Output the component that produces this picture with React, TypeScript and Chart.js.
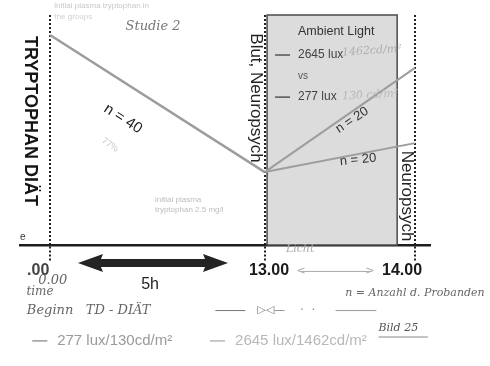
import React, { useEffect, useRef } from "react";
import { Chart, registerables } from "chart.js";

Chart.register(...registerables);

// x axis: axis position of each time mark and its label
const timePositions = [0, 1, 1.7];
const timeLabels = [".00", "13.00", "14.00"];

// plasma tryptophan (relative units)
const dietValues = [91.3, 31.7]; // 0.00 -> 13.00
const brightValues = [31.7, 77.0]; // 13.00 -> 14.00
const dimValues = [31.7, 44.3]; // 13.00 -> 14.00

const seriesNames = ["277 lux/130cd/m²", "2645 lux/1462cd/m²"];
const groupSizes = ["n = 40", "n = 20", "n = 20"];
const boxLines = ["Ambient Light", "2645 lux", "vs", "277 lux"];

const LINE = "#9d9d9d";
const SANS = "'Liberation Sans', Arial, sans-serif";
const HAND = "'DejaVu Serif', serif";

function txt(
  ctx: CanvasRenderingContext2D,
  s: string,
  px: number,
  py: number,
  font: string,
  color: string,
  align: CanvasTextAlign = "center",
  rot = 0
) {
  ctx.save();
  ctx.translate(px, py);
  ctx.rotate((rot * Math.PI) / 180);
  ctx.font = font;
  ctx.fillStyle = color;
  ctx.textAlign = align;
  ctx.textBaseline = "middle";
  ctx.fillText(s, 0, 0);
  ctx.restore();
}

function seg(ctx: CanvasRenderingContext2D, x1: number, y1: number, x2: number, y2: number, color: string, w: number) {
  ctx.save();
  ctx.strokeStyle = color;
  ctx.lineWidth = w;
  ctx.beginPath();
  ctx.moveTo(x1, y1);
  ctx.lineTo(x2, y2);
  ctx.stroke();
  ctx.restore();
}

const sketchPlugin = {
  id: "sketch",
  beforeDatasetsDraw(chart: any) {
    const { ctx } = chart;
    const xs = chart.scales.x;
    const ys = chart.scales.y;
    const l = xs.getPixelForValue(1.011);
    const r = xs.getPixelForValue(1.617);
    const t = ys.getPixelForValue(100);
    const b = ys.getPixelForValue(0);
    ctx.save();
    ctx.fillStyle = "#dcdcdc";
    ctx.fillRect(l, t, r - l, b - t);
    ctx.strokeStyle = "#4a4a4a";
    ctx.lineWidth = 1.5;
    ctx.strokeRect(l, t, r - l, b - t);
    ctx.restore();
  },
  afterDatasetsDraw(chart: any) {
    const { ctx } = chart;
    const xs = chart.scales.x;
    const ys = chart.scales.y;
    const X = (v: number) => xs.getPixelForValue(v);
    const Y = (v: number) => ys.getPixelForValue(v);

    // vertical titles
    txt(ctx, "TRYPTOPHAN DIÄT", X(-0.093), Y(53.9), `bold 18px ${SANS}`, "#151515", "center", 90);
    txt(ctx, "Blut, Neuropsych", X(0.957), Y(63.9), `17px ${SANS}`, "#222", "center", 90);
    txt(ctx, "Neuropsych", X(1.663), Y(21.3), `17px ${SANS}`, "#222", "center", 90);

    // box legend
    txt(ctx, boxLines[0], X(1.155), Y(92.6), `12.5px ${SANS}`, "#333", "left");
    seg(ctx, X(1.048), Y(82.6), X(1.118), Y(82.6), "#555", 1.5);
    txt(ctx, boxLines[1], X(1.155), Y(82.6), `12px ${SANS}`, "#444", "left");
    txt(ctx, boxLines[2], X(1.155), Y(73.5), `10px ${SANS}`, "#555", "left");
    seg(ctx, X(1.048), Y(64.3), X(1.118), Y(64.3), "#555", 1.5);
    txt(ctx, boxLines[3], X(1.155), Y(64.3), `12px ${SANS}`, "#444", "left");
    txt(ctx, "1462cd/m²", X(1.36), Y(83.5), `italic 11px ${HAND}`, "#b0b0b0", "left", -4);
    txt(ctx, "130 cd/m²", X(1.36), Y(64.5), `italic 11px ${HAND}`, "#b8b8b8", "left", -3);

    // group sizes
    txt(ctx, groupSizes[0], X(0.34), Y(54.8), `15px ${SANS}`, "#222", "center", 32.7);
    txt(ctx, groupSizes[1], X(1.407), Y(54.3), `13px ${SANS}`, "#333", "center", -34);
    txt(ctx, groupSizes[2], X(1.435), Y(37), `13px ${SANS}`, "#333", "center", -6);

    // faint printed remnants
    txt(ctx, "77%", X(0.28), Y(43.5), `9px ${SANS}`, "#c4c4c4", "center", 35);
    txt(ctx, "initial plasma", X(0.489), Y(19.6), `8px ${SANS}`, "#bdbdbd", "left");
    txt(ctx, "tryptophan 2.5 mg/l", X(0.489), Y(15.2), `8px ${SANS}`, "#bdbdbd", "left");
    txt(ctx, "initial plasma tryptophan in", X(0.02), Y(103.8), `8px ${SANS}`, "#c8c8c8", "left");
    txt(ctx, "the groups", X(0.02), Y(99.2), `8px ${SANS}`, "#d0d0d0", "left");
    txt(ctx, "e", X(-0.14), Y(3.5), `10px ${SANS}`, "#333", "left");

    // handwriting
    txt(ctx, "Studie 2", X(0.48), Y(94.8), `italic 13px ${HAND}`, "#777", "center");
    txt(ctx, "Licht", X(1.165), Y(-1.8), `italic 11px ${HAND}`, "#aaa", "center");
    seg(ctx, X(1.17), Y(-11.5), X(1.49), Y(-11.5), "#aaa", 1);
    txt(ctx, "<", X(1.17), Y(-11.5), `11px ${HAND}`, "#aaa", "center");
    txt(ctx, ">", X(1.49), Y(-11.5), `11px ${HAND}`, "#aaa", "center");
    txt(ctx, "0.00", X(-0.055), Y(-15.5), `italic 13px ${HAND}`, "#666", "left");
    txt(ctx, "time", X(-0.11), Y(-20.5), `italic 12px ${HAND}`, "#666", "left");
    txt(ctx, "Beginn   TD - DIÄT", X(-0.108), Y(-28.5), `italic 13px ${HAND}`, "#666", "left");
    seg(ctx, X(0.77), Y(-28.5), X(0.91), Y(-28.5), "#777", 1);
    txt(ctx, "▷◁—", X(1.03), Y(-28.5), `11px ${HAND}`, "#777", "center");
    txt(ctx, "·  ·", X(1.2), Y(-28.5), `12px ${HAND}`, "#999", "center");
    seg(ctx, X(1.33), Y(-28.5), X(1.52), Y(-28.5), "#999", 1);
    txt(ctx, "n = Anzahl d. Probanden", X(1.375), Y(-21), `italic 11px ${HAND}`, "#666", "left");
    txt(ctx, "Bild 25", X(1.53), Y(-36.3), `italic 11px ${HAND}`, "#555", "left");
    seg(ctx, X(1.53), Y(-40), X(1.76), Y(-40), "#888", 1);

    // time labels
    const labelAt = [-0.055, 1.02, 1.64];
    timeLabels.forEach((s, i) => {
      txt(ctx, s, X(labelAt[i]), Y(-11.3), `bold 16px ${SANS}`, i === 0 ? "#444" : "#1a1a1a", "center");
    });

    // 5h double arrow
    const x1 = X(0.13);
    const x2 = X(0.829);
    const yy = Y(-7.8);
    ctx.save();
    ctx.fillStyle = "#242424";
    ctx.beginPath();
    ctx.moveTo(x1, yy);
    ctx.lineTo(x1 + 25, yy - 9);
    ctx.lineTo(x1 + 23, yy - 4);
    ctx.lineTo(x2 - 23, yy - 4);
    ctx.lineTo(x2 - 25, yy - 9);
    ctx.lineTo(x2, yy);
    ctx.lineTo(x2 - 25, yy + 9);
    ctx.lineTo(x2 - 23, yy + 4);
    ctx.lineTo(x1 + 23, yy + 4);
    ctx.lineTo(x1 + 25, yy + 9);
    ctx.closePath();
    ctx.fill();
    ctx.restore();
    txt(ctx, "5h", X(0.466), Y(-17), `16px ${SANS}`, "#222", "center");

    // bottom legend
    const ly = Y(-41.7);
    seg(ctx, X(-0.083), ly, X(-0.013), ly, "#9a9a9a", 1.5);
    txt(ctx, seriesNames[0], X(0.033), ly, `15px ${SANS}`, "#9a9a9a", "left");
    seg(ctx, X(0.745), ly, X(0.815), ly, "#b8b8b8", 1.5);
    txt(ctx, seriesNames[1], X(0.862), ly, `15px ${SANS}`, "#b8b8b8", "left");
  },
};

export default function App() {
  const ref = useRef<HTMLCanvasElement | null>(null);
  useEffect(() => {
    if (!ref.current) return;
    const chart = new Chart(ref.current, {
      type: "line",
      data: {
        datasets: [
          {
            label: "TD",
            data: [
              { x: timePositions[0], y: dietValues[0] },
              { x: timePositions[1], y: dietValues[1] },
            ],
            borderColor: LINE,
            borderWidth: 2.5,
            pointRadius: 0,
          },
          {
            label: seriesNames[1],
            data: [
              { x: timePositions[1], y: brightValues[0] },
              { x: timePositions[2], y: brightValues[1] },
            ],
            borderColor: LINE,
            borderWidth: 2,
            pointRadius: 0,
          },
          {
            label: seriesNames[0],
            data: [
              { x: timePositions[1], y: dimValues[0] },
              { x: timePositions[2], y: dimValues[1] },
            ],
            borderColor: LINE,
            borderWidth: 2,
            pointRadius: 0,
          },
        ],
      },
      options: {
        responsive: false,
        animation: false,
        layout: { padding: { left: 20, right: 60, top: 15, bottom: 104 } },
        plugins: { legend: { display: false }, tooltip: { enabled: false } },
        scales: {
          x: {
            type: "linear",
            min: -0.14,
            max: 1.77,
            afterBuildTicks: (scale: any) => {
              scale.ticks = timePositions.map((v) => ({ value: v }));
            },
            ticks: { display: false },
            grid: {
              color: "#222",
              lineWidth: 2,
              drawTicks: true,
              tickLength: 17,
              tickColor: "#222",
              tickWidth: 2,
              tickBorderDash: [2, 2],
            },
            border: { display: true, color: "#1e1e1e", width: 2.5, dash: [2, 2] },
          },
          y: { display: false, min: 0, max: 100 },
        },
      },
      plugins: [sketchPlugin],
    } as any);
    return () => chart.destroy();
  }, []);
  return (
    <div style={{ position: "fixed", left: 0, top: 0, width: 490, height: 366, background: "#fff" }}>
      <canvas ref={ref} width={490} height={366} style={{ width: 490, height: 366 }} />
    </div>
  );
}
